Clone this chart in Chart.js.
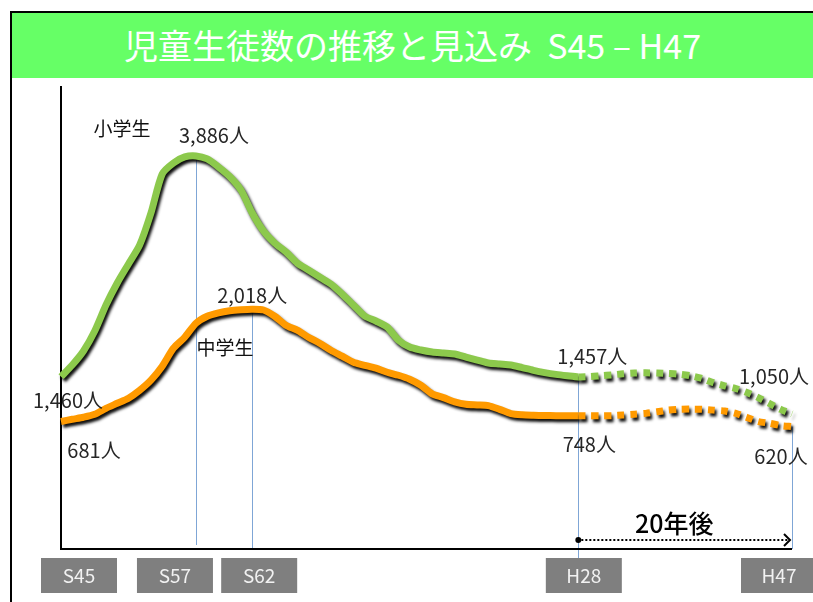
<!DOCTYPE html>
<html>
<head>
<meta charset="utf-8">
<script src="https://cdn.jsdelivr.net/npm/chart.js@4/dist/chart.umd.min.js"></script>
<style>
  html, body { margin: 0; padding: 0; background: #fff; }
  #wrap { position: relative; width: 813px; height: 602px; overflow: hidden; }
  #c { position: absolute; left: 0; top: 0; }
  #title {
    position: absolute; left: 12px; top: 13px; width: 801px; height: 65px;
    background: #66FF66; color: #fff; text-align: center;
    font-family: "Noto Sans CJK JP", sans-serif; font-size: 34px; line-height: 64px;
    white-space: pre;
  }
</style>
</head>
<body>
<div id="wrap">
  <canvas id="c" width="813" height="602"></canvas>
  <div id="title">児童生徒数の推移と見込み  S45 – H47</div>
</div>
<script>
// ---- data ----
const years = [1970,1971,1972,1973,1974,1975,1976,1977,1978,1979,
               1980,1981,1982,1983,1984,1985,1986,1987,1988,1989,
               1990,1991,1992,1993,1994,1995,1996,1997,1998,1999,
               2000,2001,2002,2003,2004,2005,2006,2007,2008,2009,
               2010,2011,2012,2013,2014,2015,2016,2017,2018,2019,
               2020,2021,2022,2023,2024,2025,2026,2027,2028,2029,
               2030,2031,2032,2033,2034,2035];
// 小学生
const elementary = [1460,1588,1742,1962,2248,2490,2699,2908,3259,3688,
                    3809,3875,3886,3853,3765,3660,3512,3259,3062,2930,
                    2831,2710,2633,2556,2479,2369,2248,2127,2072,2006,
                    1863,1786,1753,1731,1720,1709,1676,1643,1610,1599,
                    1588,1560,1530,1505,1485,1470,1457,1460,1470,1480,
                    1492,1500,1502,1500,1495,1488,1470,1440,1395,1360,
                    1330,1285,1230,1165,1100,1050];
// 中学生
const juniorHigh = [681,707,731,766,838,897,957,1052,1172,1338,
                    1553,1684,1851,1934,1975,2000,2012,2018,2008,1934,
                    1827,1768,1684,1613,1529,1458,1386,1350,1315,1267,
                    1231,1184,1112,1010,965,915,885,878,870,825,
                    775,760,755,752,750,749,748,748,748,750,
                    758,767,777,796,816,826,828,826,816,806,
                    777,729,680,660,632,620];
const projectionStart = 2016;               // 推計（点線）の開始
const tickYears  = [1970, 1982, 1987, 2016, 2035];
const tickLabels = ['S45', 'S57', 'S62', 'H28', 'H47'];
const seriesNames = ['小学生', '中学生'];
const periodLabel = '20年後';

// ---- styles ----
const FONT = '"Noto Sans CJK JP", "Noto Sans", sans-serif';
const GREEN = '#8CC94C';
const ORANGE = '#FF9A00';
const GUIDE = '#7FA6D6';

const series = { e: elementary, j: juniorHigh };
const axisOf = { e: 'yE', j: 'yJ' };
function pt(chart, key, year) {
  const v = series[key][years.indexOf(year)];
  return { x: chart.scales.x.getPixelForValue(year), y: chart.scales[axisOf[key]].getPixelForValue(v), v };
}

const shadow = {
  id: 'shadow',
  beforeDatasetDraw(chart) {
    const ctx = chart.ctx; ctx.save();
    ctx.shadowColor = 'rgba(0,0,0,0.95)'; ctx.shadowBlur = 3;
    ctx.shadowOffsetX = 2; ctx.shadowOffsetY = 3;
  },
  afterDatasetDraw(chart) { chart.ctx.restore(); }
};

const decor = {
  id: 'decor',
  beforeDraw(chart) {
    const ctx = chart.ctx; ctx.save();
    ctx.fillStyle = '#fff'; ctx.fillRect(0, 0, chart.width, chart.height);
    ctx.fillStyle = '#000';
    ctx.fillRect(10, 11, 2, chart.height - 11);
    ctx.fillRect(10, 11, chart.width - 10, 2);
    ctx.restore();
  },
  beforeDatasetsDraw(chart) {
    const ctx = chart.ctx, a = chart.chartArea;
    ctx.save();
    // guide lines
    ctx.strokeStyle = GUIDE; ctx.lineWidth = 1;
    const guides = [['e', 1982, -4], ['j', 1987, 0], ['e', 2016, 9], ['j', 2035, 0]];
    guides.forEach(([k, yr, ext]) => {
      const p = pt(chart, k, yr);
      const x = Math.round(p.x) + 0.5;
      ctx.beginPath(); ctx.moveTo(x, p.y); ctx.lineTo(x, a.bottom + ext); ctx.stroke();
    });
    // axes
    ctx.fillStyle = '#000';
    ctx.fillRect(a.left - 1, a.top, 2, a.bottom - a.top + 1);
    ctx.fillRect(a.left - 1, a.bottom - 1, a.right - a.left + 1, 2);
    ctx.restore();
  },
  afterDatasetsDraw(chart) {
    const ctx = chart.ctx, a = chart.chartArea, xs = chart.scales.x;
    ctx.save();
    ctx.textAlign = 'center'; ctx.textBaseline = 'middle';
    // value labels
    ctx.fillStyle = '#262626';
    ctx.font = '20px ' + FONT;
    const vl = [['e',1970,7,24],['e',1982,18,-21],['e',2016,14,-21],['e',2035,-18,-38],
                ['j',1970,33,29],['j',1987,0,-14],['j',2016,11,29],['j',2035,-11,30]];
    vl.forEach(([k, yr, dx, dy]) => {
      const p = pt(chart, k, yr);
      ctx.fillText(p.v.toLocaleString('en-US') + '人', p.x + dx, p.y + dy);
    });
    // series names
    const pe = pt(chart, 'e', 1982), pj = pt(chart, 'j', 1982);
    ctx.fillStyle = '#111';
    ctx.font = '19px ' + FONT;
    ctx.fillText(seriesNames[0], pe.x - 74, pe.y - 27);
    ctx.fillText(seriesNames[1], pj.x + 29, pj.y + 25);
    // tick boxes
    const boxOff = [18, -21, 7, 5.5, -13];
    ctx.font = '19px ' + FONT;
    tickYears.forEach((yr, i) => {
      const cx = xs.getPixelForValue(yr) + boxOff[i];
      ctx.fillStyle = '#7F7F7F';
      ctx.fillRect(cx - 38, a.bottom + 9, 76, 35);
      ctx.fillStyle = '#F2F2F2';
      ctx.fillText(tickLabels[i], cx, a.bottom + 27);
    });
    // 20年後 arrow
    const x0 = xs.getPixelForValue(projectionStart), x1 = xs.getPixelForValue(years[years.length - 1]);
    const ay = a.bottom - 9;
    ctx.fillStyle = '#000';
    ctx.beginPath(); ctx.arc(x0, ay, 3, 0, Math.PI * 2); ctx.fill();
    ctx.strokeStyle = '#000'; ctx.lineWidth = 2; ctx.setLineDash([2, 2]);
    ctx.beginPath(); ctx.moveTo(x0 + 3, ay); ctx.lineTo(x1 - 3, ay); ctx.stroke();
    ctx.setLineDash([]);
    ctx.beginPath(); ctx.moveTo(x1 - 8, ay - 6); ctx.lineTo(x1 - 2, ay); ctx.lineTo(x1 - 8, ay + 6); ctx.stroke();
    ctx.font = '500 25px ' + FONT;
    ctx.fillStyle = '#000';
    ctx.fillText(periodLabel, (x0 + x1) / 2 - 11, ay - 17);
    ctx.restore();
  }
};

function ds(label, key, color) {
  return {
    label, yAxisID: axisOf[key],
    data: years.map((yr, i) => ({ x: yr, y: series[key][i] })),
    borderColor: color, borderWidth: 7, pointRadius: 0, tension: 0.25,
    borderCapStyle: 'butt', borderJoinStyle: 'round', fill: false, clip: false,
    segment: { borderDash: c => (c.p0.parsed.x >= projectionStart ? [7, 6] : undefined) }
  };
}

new Chart(document.getElementById('c'), {
  type: 'line',
  data: { datasets: [ds(seriesNames[0], 'e', GREEN), ds(seriesNames[1], 'j', ORANGE)] },
  options: {
    responsive: false, animation: false, devicePixelRatio: 1,
    layout: { padding: { left: 61, top: 86, right: 21, bottom: 53 } },
    scales: {
      x: { type: 'linear', min: 1970, max: 2035, display: false },
      yE: { type: 'linear', min: -434, max: 4655, display: false },
      yJ: { type: 'linear', min: -838, max: 4676, display: false }
    },
    plugins: { legend: { display: false }, tooltip: { enabled: false }, title: { display: false } }
  },
  plugins: [decor, shadow]
});
</script>
</body>
</html>
